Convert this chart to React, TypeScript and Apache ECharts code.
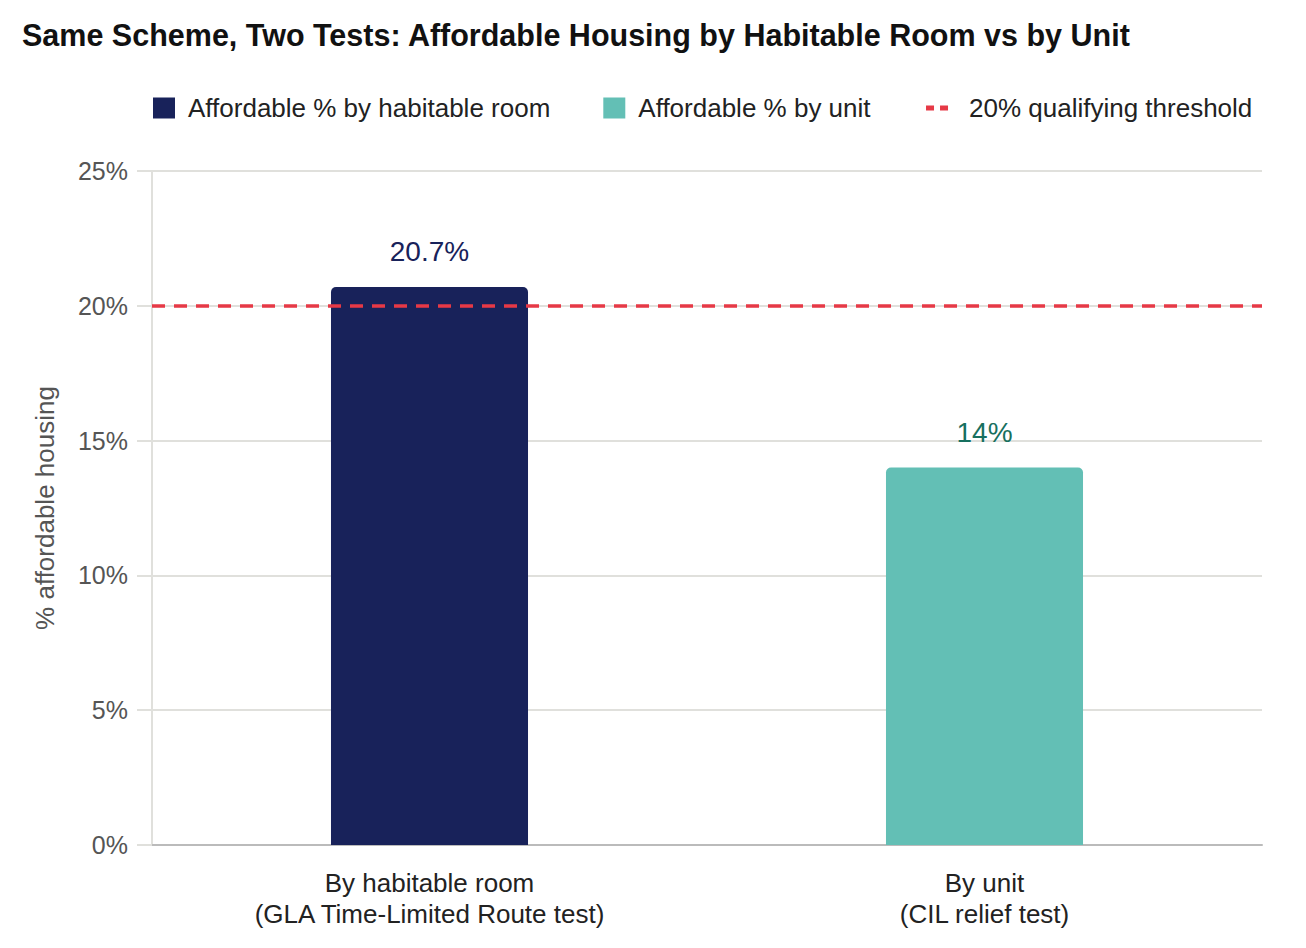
import React, { useEffect, useRef } from "react";
import * as echarts from "echarts";

const categories = ["By habitable room\n(GLA Time-Limited Route test)", "By unit\n(CIL relief test)"];
const seriesNames = ["Affordable % by habitable room", "Affordable % by unit", "20% qualifying threshold"];
const byRoom = [20.7, null];
const byUnit = [null, 14];
const threshold = 20;
const yTicks = { min: 0, max: 25, interval: 5 };

const NAVY = "#18225a";
const TEAL = "#63bfb5";
const RED = "#e63946";
const GRID = "#e0e0dc";
const FONT = "'Liberation Sans', Arial, sans-serif";

export default function App() {
  const ref = useRef<HTMLDivElement>(null);
  useEffect(() => {
    const chart = echarts.init(ref.current!, null, { renderer: "svg" });
    chart.setOption({
      animation: false,
      backgroundColor: "#ffffff",
      textStyle: { fontFamily: FONT },
      title: {
        text: "Same Scheme, Two Tests: Affordable Housing by Habitable Room vs by Unit",
        left: 17,
        top: 14,
        textStyle: { fontSize: 30.5, fontWeight: "bold", color: "#111", fontFamily: FONT },
      },
      legend: {
        left: 148,
        top: 90,
        itemWidth: 22,
        itemHeight: 21,
        itemGap: 53,
        textStyle: { fontSize: 26, color: "#222", fontFamily: FONT, padding: [0, 0, 0, 8] },
        data: [
          { name: seriesNames[0], icon: "rect" },
          { name: seriesNames[1], icon: "rect" },
          {
            name: seriesNames[2],
            itemStyle: { color: "rgba(0,0,0,0)", borderWidth: 0, opacity: 0 },
            lineStyle: { color: RED, width: 5, type: [8, 6] },
            textStyle: { padding: [0, 0, 0, 16] },
          },
        ],
      },
      grid: { left: 152, right: 44, top: 171, bottom: 103, containLabel: false },
      xAxis: {
        type: "category",
        data: categories,
        axisLine: { show: true, lineStyle: { color: "#bbbbbb", width: 2 } },
        axisTick: { show: false },
        axisLabel: { fontSize: 26, color: "#222", lineHeight: 31, margin: 22, fontFamily: FONT },
      },
      yAxis: {
        type: "value",
        min: yTicks.min,
        max: yTicks.max,
        interval: yTicks.interval,
        name: "% affordable housing",
        nameLocation: "middle",
        nameGap: 94,
        nameTextStyle: { fontSize: 26, color: "#555", fontFamily: FONT },
        axisLine: { show: true, lineStyle: { color: GRID, width: 2 } },
        axisTick: { show: true, length: 15, lineStyle: { color: GRID, width: 2 } },
        axisLabel: { fontSize: 25, color: "#555", margin: 24, formatter: "{value}%", fontFamily: FONT },
        splitLine: { show: true, lineStyle: { color: GRID, width: 2 } },
      },
      series: [
        {
          name: seriesNames[0],
          type: "bar",
          stack: "a",
          data: byRoom,
          barWidth: "35.5%",
          itemStyle: { color: NAVY, borderRadius: [5, 5, 0, 0] },
          label: {
            show: true,
            position: "top",
            distance: 21,
            fontSize: 28,
            color: NAVY,
            fontFamily: FONT,
            formatter: (p: any) => p.value + "%",
          },
        },
        {
          name: seriesNames[1],
          type: "bar",
          stack: "a",
          data: byUnit,
          barWidth: "35.5%",
          itemStyle: { color: TEAL, borderRadius: [5, 5, 0, 0] },
          label: {
            show: true,
            position: "top",
            distance: 21,
            fontSize: 28,
            color: "#17705f",
            fontFamily: FONT,
            formatter: (p: any) => p.value + "%",
          },
        },
        {
          name: seriesNames[2],
          type: "line",
          data: [],
          symbol: "none",
          itemStyle: { color: RED },
          lineStyle: { color: RED, type: [8, 6], width: 5 },
          z: 5,
          markLine: {
            silent: true,
            symbol: "none",
            label: { show: false },
            lineStyle: { color: RED, type: [13, 9], width: 3.5 },
            data: [{ yAxis: threshold }],
          },
        },
      ],
    });
    return () => chart.dispose();
  }, []);
  return (
    <div
      ref={ref}
      style={{ position: "fixed", left: 0, top: 0, width: 1306, height: 948, background: "#fff" }}
    />
  );
}
